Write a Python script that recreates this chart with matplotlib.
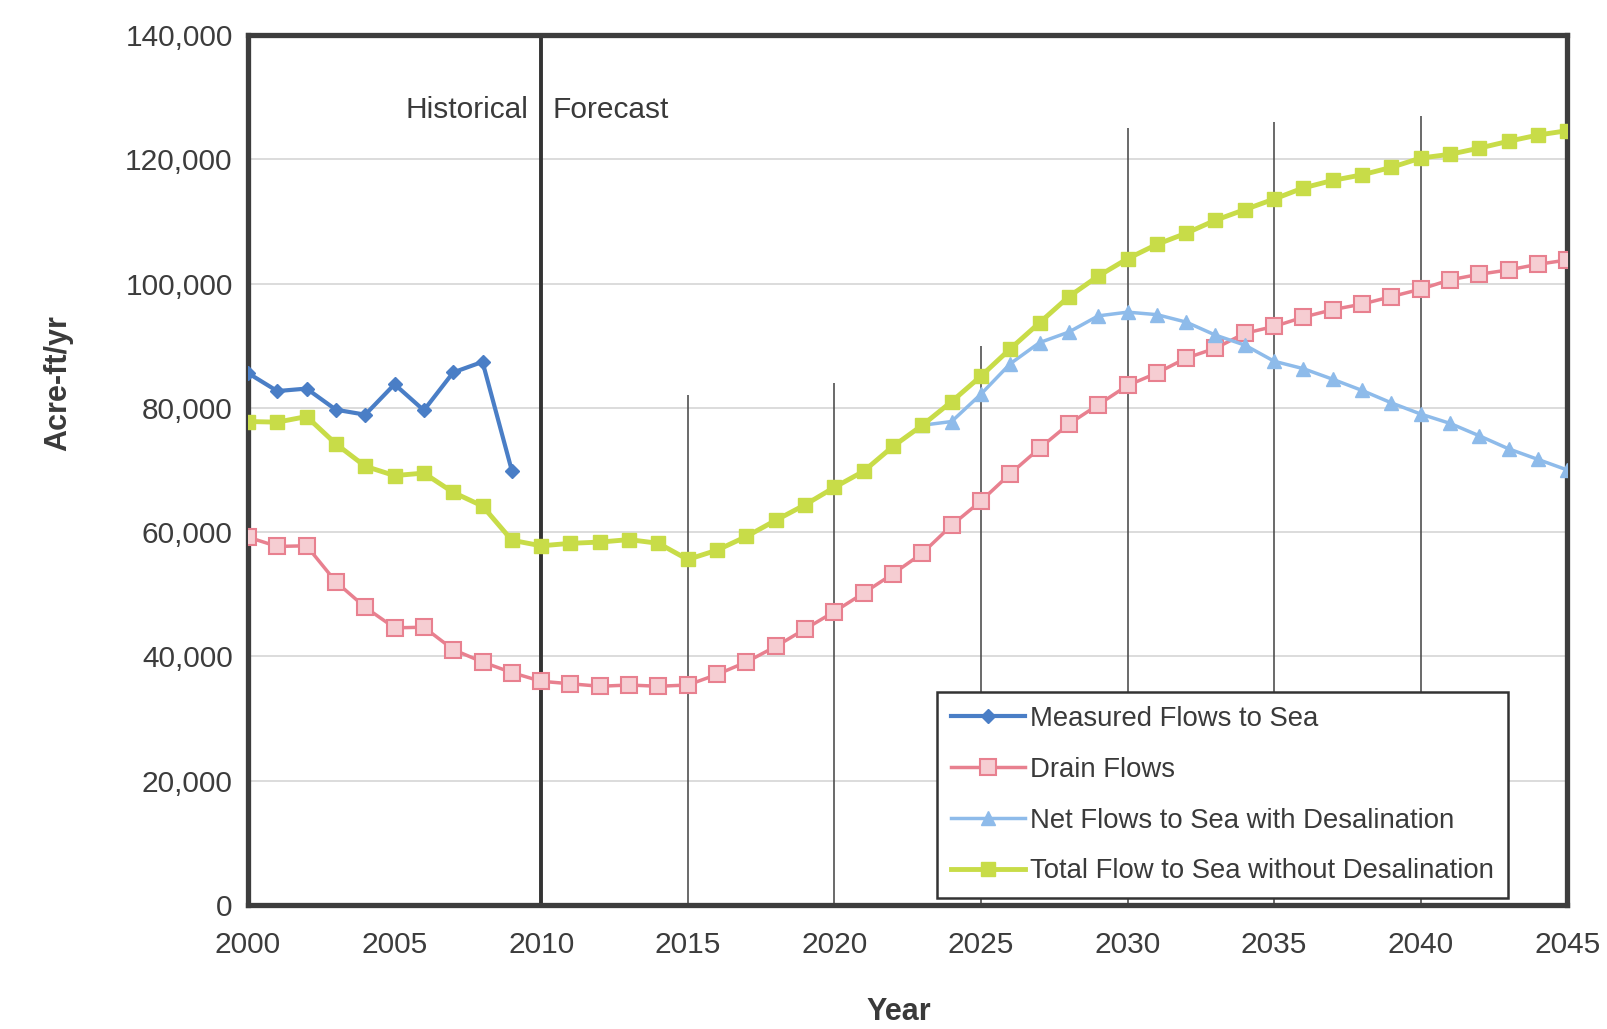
import matplotlib.pyplot as plt
from matplotlib.ticker import FuncFormatter, MultipleLocator

plt.rcParams['font.family'] = ['Liberation Sans', 'DejaVu Sans']

# data (acre-ft/yr)
years = list(range(2000, 2046))

measured_years = list(range(2000, 2010))
measured = [85600, 82700, 83100, 79700, 78900, 83800, 79600, 85700, 87400, 69900]

drain = [59200, 57700, 57800, 52000, 47900, 44600, 44700, 41100, 39100, 37400,
         36000, 35600, 35200, 35400, 35200, 35400, 37100, 39100, 41600, 44400,
         47200, 50200, 53300, 56600, 61100, 65000, 69400, 73500, 77400, 80500,
         83600, 85600, 88000, 89600, 92000, 93100, 94600, 95800, 96700, 97900,
         99100, 100600, 101500, 102200, 103100, 103800]

net_years = list(range(2023, 2046))
net = [77200, 77800, 82200, 87100, 90500, 92200, 94800, 95400, 95000, 93800,
       91700, 90100, 87500, 86300, 84600, 82800, 80800, 79000, 77500, 75500,
       73400, 71700, 70000]

total = [77800, 77700, 78600, 74200, 70600, 69100, 69500, 66400, 64200, 58700,
         57800, 58200, 58400, 58800, 58200, 55600, 57100, 59300, 61900, 64400,
         67200, 69800, 73800, 77200, 81000, 85100, 89500, 93700, 97900, 101200,
         104000, 106300, 108100, 110200, 111900, 113600, 115400, 116600, 117500, 118700,
         120200, 120800, 121800, 122900, 123900, 124600]

divider_year = 2010
guide_years = [2015, 2020, 2025, 2030, 2035, 2040]
guide_tops = [82000, 84000, 90000, 125000, 126000, 127000]

fig = plt.figure(figsize=(16.08, 10.29), dpi=100)
ax = fig.add_axes([0.1542, 0.1205, 0.8205, 0.8455])

ax.set_xlim(2000, 2045)
ax.set_ylim(0, 140000)
ax.xaxis.set_major_locator(MultipleLocator(5))
ax.yaxis.set_major_locator(MultipleLocator(20000))
ax.yaxis.set_major_formatter(FuncFormatter(lambda v, p: f"{int(v):,}"))
ax.grid(axis='y', color='#d9d9d9', linewidth=1.3)
ax.set_axisbelow(True)

ax.tick_params(axis='both', length=0, labelsize=21.5, colors='#3c3c3c')
ax.tick_params(axis='x', pad=19)
ax.tick_params(axis='y', pad=11)

for s in ax.spines.values():
    s.set_linewidth(3.8)
    s.set_color('#3d3d3d')

# partial vertical guides and the historical / forecast split
ax.vlines(guide_years, 0, guide_tops, color='#505050', linewidth=1.2, zorder=1)
ax.axvline(divider_year, color='#333333', linewidth=2.8, zorder=1)
ax.text(2009.55, 128000, 'Historical', ha='right', va='center', fontsize=21.5, color='#3a3a3a')
ax.text(2010.4, 128000, 'Forecast', ha='left', va='center', fontsize=21.5, color='#3a3a3a')

ax.plot(measured_years, measured, color='#4a7ec6', linewidth=3, marker='D', markersize=7,
        label='Measured Flows to Sea', zorder=3)
ax.plot(years, drain, color='#e8808f', linewidth=2.5, marker='s', markersize=12,
        markerfacecolor='#f6cdd2', markeredgecolor='#e8808f', markeredgewidth=1.5,
        label='Drain Flows', zorder=3)
ax.plot(net_years, net, color='#8ebbea', linewidth=2.5, marker='^', markersize=10,
        label='Net Flows to Sea with Desalination', zorder=3)
ax.plot(years, total, color='#c8dc48', linewidth=3.5, marker='s', markersize=10.5,
        label='Total Flow to Sea without Desalination', zorder=3)

ax.set_ylabel('Acre-ft/yr', fontsize=22, fontweight='bold', color='#3a3a3a')
ax.yaxis.set_label_coords(-0.1325, 0.6)
ax.set_xlabel('Year', fontsize=22, fontweight='bold', color='#3a3a3a')
ax.xaxis.set_label_coords(0.493, -0.106)

leg = ax.legend(loc='lower right', bbox_to_anchor=(0.955, 0.008), fontsize=19.8,
                frameon=True, fancybox=False, edgecolor='#333333', framealpha=1,
                handlelength=2.7, labelspacing=0.9, borderpad=0.5,
                handletextpad=0.2, borderaxespad=0)
leg.get_frame().set_linewidth(1.8)
for t in leg.get_texts():
    t.set_color('#3a3a3a')

fig.savefig('out.png', dpi=100)
plt.close(fig)
